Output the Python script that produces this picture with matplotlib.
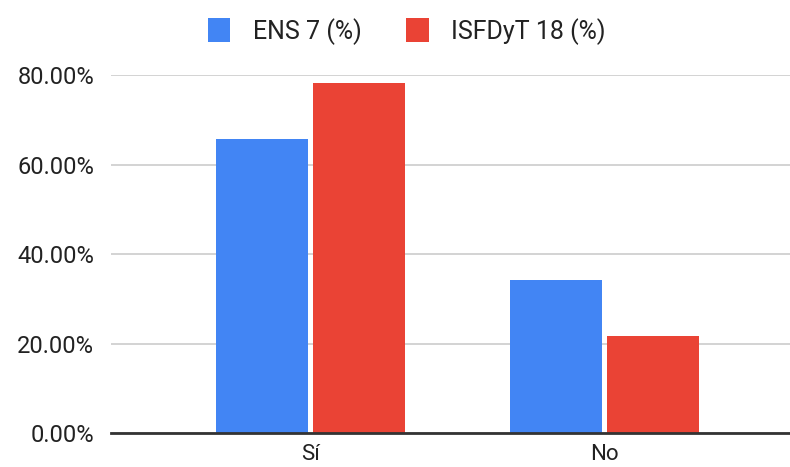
import matplotlib
matplotlib.use("Agg")
import matplotlib.pyplot as plt
import numpy as np
from matplotlib.ticker import FuncFormatter

categories = ["Sí", "No"]
series_names = ["ENS 7 (%)", "ISFDyT 18 (%)"]
ens7 = [65.7, 34.3]
isfdyt18 = [78.3, 21.7]
yticks = [0, 20, 40, 60, 80]

plt.rcParams['font.family'] = ['Roboto', 'DejaVu Sans']

fig = plt.figure(figsize=(7.9, 4.67), dpi=100)
ax = fig.add_axes([0.1405, 0.0728, 0.8595, 0.7666])

x = np.arange(len(categories))
w = 0.313
gap = 0.017
b1 = ax.bar(x - w/2 - gap/2, ens7, width=w, color="#4285F4", label=series_names[0], zorder=3)
b2 = ax.bar(x + w/2 + gap/2, isfdyt18, width=w, color="#EA4335", label=series_names[1], zorder=3)

ax.set_xlim(-0.68, 1.633)
ax.set_ylim(0, 80)
ax.set_yticks(yticks)
ax.yaxis.set_major_formatter(FuncFormatter(lambda v, p: f"{v:.2f}%"))
ax.set_xticks(x)
ax.set_xticklabels(categories)
ax.grid(axis='y', color="#cccccc", linewidth=1.2, zorder=0)
for s in ['top', 'right', 'left']:
    ax.spines[s].set_visible(False)
ax.spines['bottom'].set_color("#333333")
ax.spines['bottom'].set_linewidth(2)
ax.spines['bottom'].set_zorder(4)
ax.tick_params(axis='both', length=0, colors="#222222")
ax.tick_params(axis='y', pad=12, labelsize=17)
ax.tick_params(axis='x', pad=8, labelsize=16)

fig.legend(handles=[b1, b2], labels=series_names, loc='upper center',
           bbox_to_anchor=(0.515, 1.01), ncol=2, frameon=False, fontsize=18,
           handlelength=0.9, handleheight=1.1, columnspacing=1.8, handletextpad=0.9,
           labelcolor="#222222")

fig.savefig("out.png", dpi=100)
